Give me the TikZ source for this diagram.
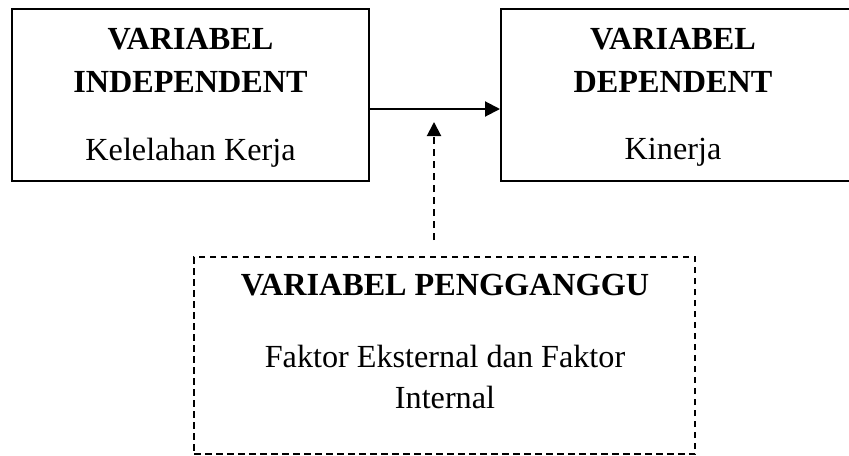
\documentclass[tikz,border=0pt]{standalone}
\usepackage{fontspec}
\setmainfont{Liberation Serif}
\usetikzlibrary{arrows.meta}
\tikzset{
  varbox/.style={draw, line width=1pt, inner sep=0pt},
  title/.style={anchor=base, font=\fontsize{16.1}{19}\selectfont\bfseries},
  body/.style={anchor=base, font=\fontsize{16.1}{19}\selectfont},
}
\begin{document}
\begin{tikzpicture}[x=0.5pt,y=-0.5pt]
      \useasboundingbox (0,0) rectangle (849,455);

      % kotak variabel
      \node[varbox, minimum width=178.5pt, minimum height=86pt] (indep) at (190.5,95) {};
      \node[varbox, minimum width=175pt, minimum height=86pt] (dep) at (676,95) {};
      \node[varbox, dash pattern=on 3.25pt off 2.25pt, minimum width=250.5pt, minimum height=98.5pt] (ganggu) at (444.5,355.5) {};

      % teks
      \node[title] (indepA) at (190.5,49) {VARIABEL};
      \node[title] (indepB) at (190.5,92) {INDEPENDENT};
      \node[body] (indepC) at (190.5,160) {Kelelahan Kerja};

      \node[title] (depA) at (673,49) {VARIABEL};
      \node[title] (depB) at (673,92) {DEPENDENT};
      \node[body] (depC) at (673,159) {Kinerja};

      \node[title] (gangguA) at (445,295) {VARIABEL PENGGANGGU};
      \node[body] (gangguB) at (445,367) {Faktor Eksternal dan Faktor};
      \node[body] (gangguC) at (445,408) {Internal};

      % panah
      \draw[line width=1pt, -{Triangle[length=7.5pt,width=7.5pt]}] ([yshift=-7pt]indep.east) -- ([yshift=-7pt]dep.west);
      \coordinate (gstart) at (434,240);
      \coordinate (gtip) at (434,122);
      \draw[line width=1pt, dash pattern=on 3.5pt off 2.5pt, -{Triangle[length=7pt,width=7pt]}] (gstart) -- (gtip);
\end{tikzpicture}
\end{document}
